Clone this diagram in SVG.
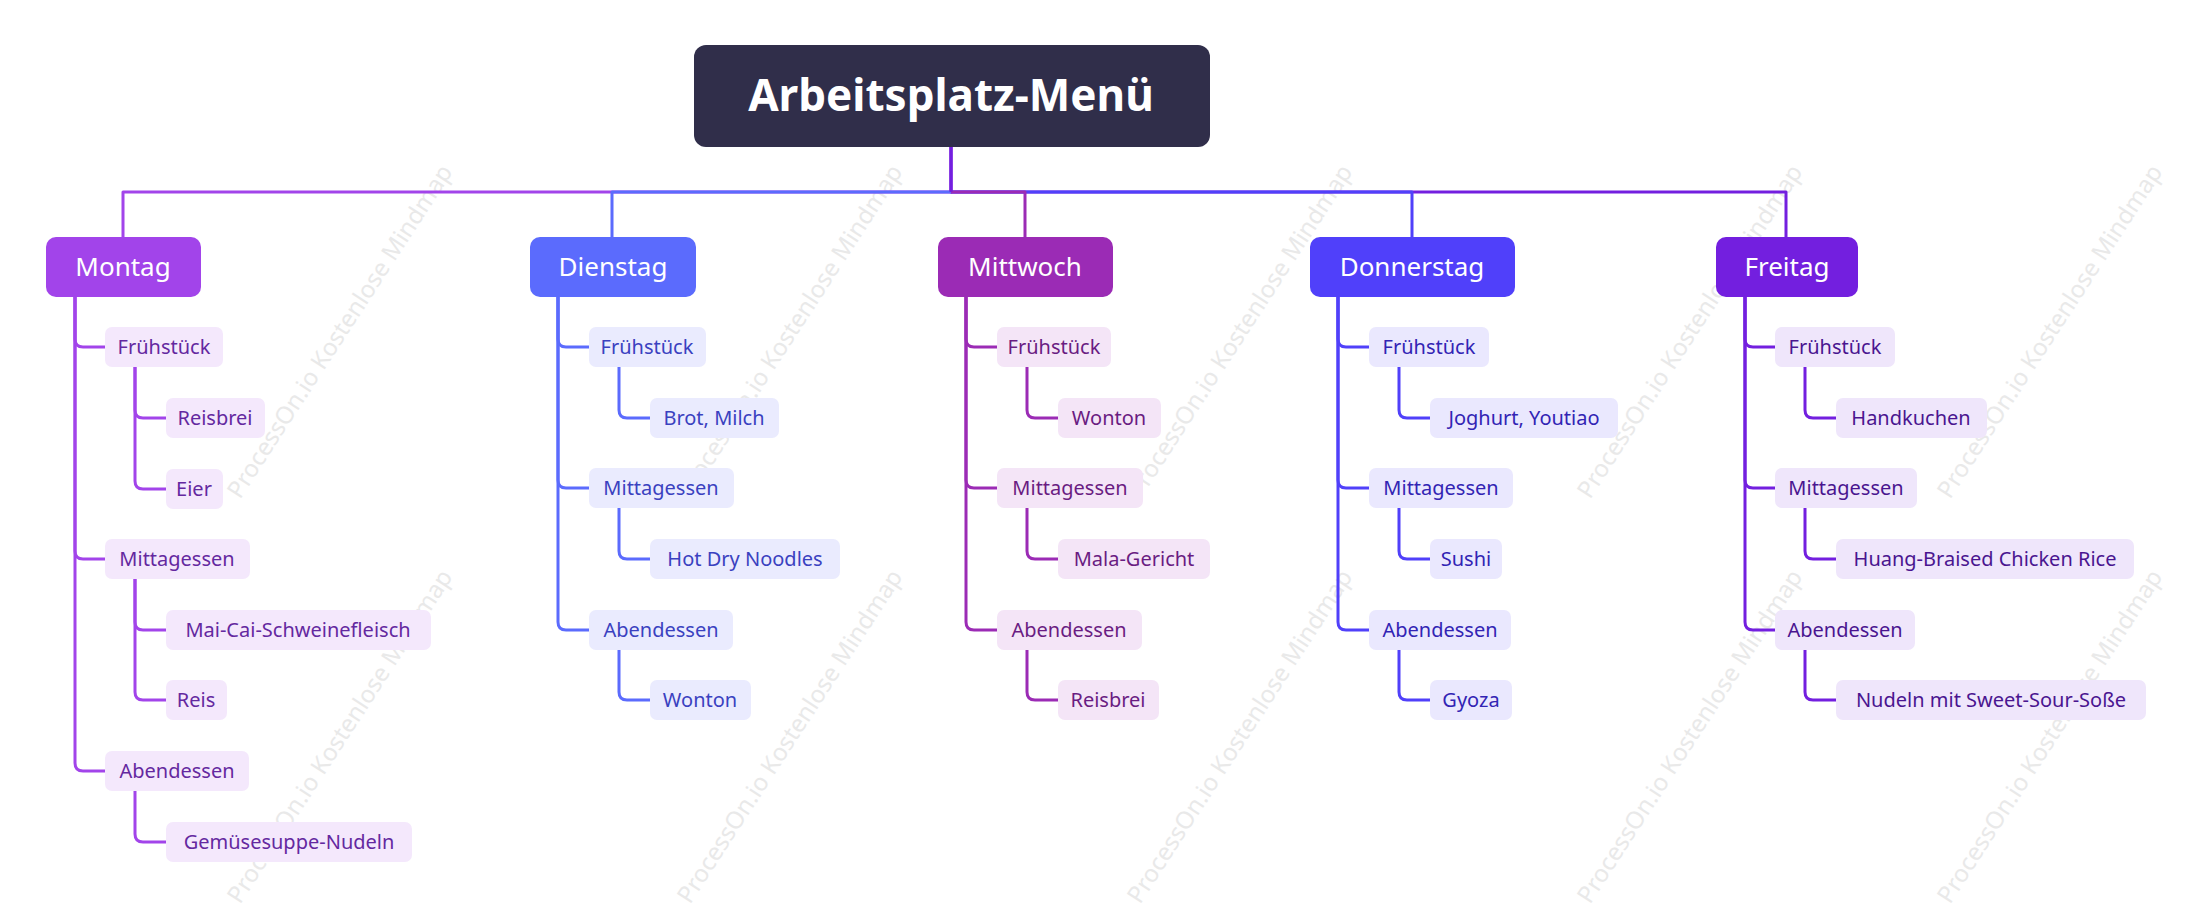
<svg xmlns="http://www.w3.org/2000/svg" width="2189" height="921" viewBox="0 0 2189 921">
<style>
text{font-family:"Noto Sans","Open Sans","Liberation Sans",sans-serif}
.wm{font-size:24px;fill:#e9e9e9}
.day{font-size:26px;fill:#fff;text-anchor:middle}
.t{font-size:20px;text-anchor:middle}
.c{fill:none;stroke-width:3;stroke-linejoin:round}
.mo .t{fill:#6428a0}.mo rect.s{fill:#f4e8fc}
.di .t{fill:#3a41c0}.di rect.s{fill:#eaebfe}
.mi .t{fill:#6a1c82}.mi rect.s{fill:#f4e5f7}
.do .t{fill:#3224b4}.do rect.s{fill:#eae8fe}
.fr .t{fill:#4a1590}.fr rect.s{fill:#efe6fb}
</style>
<rect width="2189" height="921" fill="#fff"/>
<g id="watermarks">
<text class="wm" transform="translate(240,500) rotate(-57)">ProcessOn.io Kostenlose Mindmap</text>
<text class="wm" transform="translate(240,905) rotate(-57)">ProcessOn.io Kostenlose Mindmap</text>
<text class="wm" transform="translate(690,500) rotate(-57)">ProcessOn.io Kostenlose Mindmap</text>
<text class="wm" transform="translate(690,905) rotate(-57)">ProcessOn.io Kostenlose Mindmap</text>
<text class="wm" transform="translate(1140,500) rotate(-57)">ProcessOn.io Kostenlose Mindmap</text>
<text class="wm" transform="translate(1140,905) rotate(-57)">ProcessOn.io Kostenlose Mindmap</text>
<text class="wm" transform="translate(1590,500) rotate(-57)">ProcessOn.io Kostenlose Mindmap</text>
<text class="wm" transform="translate(1590,905) rotate(-57)">ProcessOn.io Kostenlose Mindmap</text>
<text class="wm" transform="translate(1950,500) rotate(-57)">ProcessOn.io Kostenlose Mindmap</text>
<text class="wm" transform="translate(1950,905) rotate(-57)">ProcessOn.io Kostenlose Mindmap</text>
</g>
<g id="connectors">
<path class="c" stroke="#a244ea" d="M951 147V192H123V237"/>
<path class="c" stroke="#731fdf" d="M951 147V192H1786V237"/>
<path class="c" stroke="#5040fa" d="M951 192H1412V237"/>
<path class="c" stroke="#9b2bb5" d="M951 192H1025V237"/>
<path class="c" stroke="#5b6bfd" d="M951 192H612V237"/>
<path class="c" stroke="#731fdf" d="M951 147V192"/>
<g stroke="#a244ea" class="c">
<path class="c" d="M75 297V339Q75 347 83 347H105"/>
<path class="c" d="M75 297V551Q75 559 83 559H105"/>
<path class="c" d="M75 297V763Q75 771 83 771H105"/>
<path class="c" d="M135 367V410Q135 418 143 418H166"/>
<path class="c" d="M135 367V481Q135 489 143 489H166"/>
<path class="c" d="M135 579V622Q135 630 143 630H166"/>
<path class="c" d="M135 579V692Q135 700 143 700H166"/>
<path class="c" d="M135 791V834Q135 842 143 842H166"/>
</g>
<g stroke="#5b6bfd" class="c">
<path class="c" d="M558 297V339Q558 347 566 347H589"/>
<path class="c" d="M558 297V480Q558 488 566 488H589"/>
<path class="c" d="M558 297V622Q558 630 566 630H589"/>
<path class="c" d="M619 367V410Q619 418 627 418H650"/>
<path class="c" d="M619 508V551Q619 559 627 559H650"/>
<path class="c" d="M619 650V692Q619 700 627 700H650"/>
</g>
<g stroke="#9b2bb5" class="c">
<path class="c" d="M966 297V339Q966 347 974 347H997"/>
<path class="c" d="M966 297V480Q966 488 974 488H997"/>
<path class="c" d="M966 297V622Q966 630 974 630H997"/>
<path class="c" d="M1027 367V410Q1027 418 1035 418H1058"/>
<path class="c" d="M1027 508V551Q1027 559 1035 559H1058"/>
<path class="c" d="M1027 650V692Q1027 700 1035 700H1058"/>
</g>
<g stroke="#5040fa" class="c">
<path class="c" d="M1338 297V339Q1338 347 1346 347H1369"/>
<path class="c" d="M1338 297V480Q1338 488 1346 488H1369"/>
<path class="c" d="M1338 297V622Q1338 630 1346 630H1369"/>
<path class="c" d="M1399 367V410Q1399 418 1407 418H1430"/>
<path class="c" d="M1399 508V551Q1399 559 1407 559H1430"/>
<path class="c" d="M1399 650V692Q1399 700 1407 700H1430"/>
</g>
<g stroke="#731fdf" class="c">
<path class="c" d="M1745 297V339Q1745 347 1753 347H1775"/>
<path class="c" d="M1745 297V480Q1745 488 1753 488H1775"/>
<path class="c" d="M1745 297V622Q1745 630 1753 630H1775"/>
<path class="c" d="M1805 367V410Q1805 418 1813 418H1836"/>
<path class="c" d="M1805 508V551Q1805 559 1813 559H1836"/>
<path class="c" d="M1805 650V692Q1805 700 1813 700H1836"/>
</g>
</g>
<g id="root">
<rect x="694" y="45" width="516" height="102" rx="12" fill="#302e4a"/>
<text x="951" y="111" font-size="44" font-weight="bold" fill="#fff" text-anchor="middle">Arbeitsplatz-Menü</text>
</g>
<g id="montag" class="mo">
<rect x="46" y="237" width="155" height="60" rx="10" fill="#a244ea"/>
<text class="day" x="123" y="276">Montag</text>
<g id="mo-f"><rect class="s" x="105" y="327" width="118" height="40" rx="7"/><text class="t" x="164" y="354">Frühstück</text></g>
<g id="mo-f1"><rect class="s" x="166" y="398" width="99" height="40" rx="7"/><text class="t" x="215" y="425">Reisbrei</text></g>
<g id="mo-f2"><rect class="s" x="166" y="469" width="57" height="40" rx="7"/><text class="t" x="194" y="496">Eier</text></g>
<g id="mo-m"><rect class="s" x="105" y="539" width="145" height="40" rx="7"/><text class="t" x="177" y="566">Mittagessen</text></g>
<g id="mo-m1"><rect class="s" x="166" y="610" width="265" height="40" rx="7"/><text class="t" x="298" y="637">Mai-Cai-Schweinefleisch</text></g>
<g id="mo-m2"><rect class="s" x="166" y="680" width="61" height="40" rx="7"/><text class="t" x="196" y="707">Reis</text></g>
<g id="mo-a"><rect class="s" x="105" y="751" width="144" height="40" rx="7"/><text class="t" x="177" y="778">Abendessen</text></g>
<g id="mo-a1"><rect class="s" x="166" y="822" width="246" height="40" rx="7"/><text class="t" x="289" y="849">Gemüsesuppe-Nudeln</text></g>
</g>
<g id="dienstag" class="di">
<rect x="530" y="237" width="166" height="60" rx="10" fill="#5b6bfd"/>
<text class="day" x="613" y="276">Dienstag</text>
<g id="di-f"><rect class="s" x="589" y="327" width="117" height="40" rx="7"/><text class="t" x="647" y="354">Frühstück</text></g>
<g id="di-f1"><rect class="s" x="650" y="398" width="129" height="40" rx="7"/><text class="t" x="714" y="425">Brot, Milch</text></g>
<g id="di-m"><rect class="s" x="589" y="468" width="145" height="40" rx="7"/><text class="t" x="661" y="495">Mittagessen</text></g>
<g id="di-m1"><rect class="s" x="650" y="539" width="190" height="40" rx="7"/><text class="t" x="745" y="566">Hot Dry Noodles</text></g>
<g id="di-a"><rect class="s" x="589" y="610" width="144" height="40" rx="7"/><text class="t" x="661" y="637">Abendessen</text></g>
<g id="di-a1"><rect class="s" x="650" y="680" width="101" height="40" rx="7"/><text class="t" x="700" y="707">Wonton</text></g>
</g>
<g id="mittwoch" class="mi">
<rect x="938" y="237" width="175" height="60" rx="10" fill="#9b2bb5"/>
<text class="day" x="1025" y="276">Mittwoch</text>
<g id="mi-f"><rect class="s" x="997" y="327" width="114" height="40" rx="7"/><text class="t" x="1054" y="354">Frühstück</text></g>
<g id="mi-f1"><rect class="s" x="1058" y="398" width="103" height="40" rx="7"/><text class="t" x="1109" y="425">Wonton</text></g>
<g id="mi-m"><rect class="s" x="997" y="468" width="146" height="40" rx="7"/><text class="t" x="1070" y="495">Mittagessen</text></g>
<g id="mi-m1"><rect class="s" x="1058" y="539" width="152" height="40" rx="7"/><text class="t" x="1134" y="566">Mala-Gericht</text></g>
<g id="mi-a"><rect class="s" x="997" y="610" width="145" height="40" rx="7"/><text class="t" x="1069" y="637">Abendessen</text></g>
<g id="mi-a1"><rect class="s" x="1058" y="680" width="101" height="40" rx="7"/><text class="t" x="1108" y="707">Reisbrei</text></g>
</g>
<g id="donnerstag" class="do">
<rect x="1310" y="237" width="205" height="60" rx="10" fill="#5040fa"/>
<text class="day" x="1412" y="276">Donnerstag</text>
<g id="do-f"><rect class="s" x="1369" y="327" width="120" height="40" rx="7"/><text class="t" x="1429" y="354">Frühstück</text></g>
<g id="do-f1"><rect class="s" x="1430" y="398" width="188" height="40" rx="7"/><text class="t" x="1524" y="425">Joghurt, Youtiao</text></g>
<g id="do-m"><rect class="s" x="1369" y="468" width="144" height="40" rx="7"/><text class="t" x="1441" y="495">Mittagessen</text></g>
<g id="do-m1"><rect class="s" x="1430" y="539" width="72" height="40" rx="7"/><text class="t" x="1466" y="566">Sushi</text></g>
<g id="do-a"><rect class="s" x="1369" y="610" width="142" height="40" rx="7"/><text class="t" x="1440" y="637">Abendessen</text></g>
<g id="do-a1"><rect class="s" x="1430" y="680" width="82" height="40" rx="7"/><text class="t" x="1471" y="707">Gyoza</text></g>
</g>
<g id="freitag" class="fr">
<rect x="1716" y="237" width="142" height="60" rx="10" fill="#731fdf"/>
<text class="day" x="1787" y="276">Freitag</text>
<g id="fr-f"><rect class="s" x="1775" y="327" width="120" height="40" rx="7"/><text class="t" x="1835" y="354">Frühstück</text></g>
<g id="fr-f1"><rect class="s" x="1836" y="398" width="151" height="40" rx="7"/><text class="t" x="1911" y="425">Handkuchen</text></g>
<g id="fr-m"><rect class="s" x="1775" y="468" width="142" height="40" rx="7"/><text class="t" x="1846" y="495">Mittagessen</text></g>
<g id="fr-m1"><rect class="s" x="1836" y="539" width="298" height="40" rx="7"/><text class="t" x="1985" y="566">Huang-Braised Chicken Rice</text></g>
<g id="fr-a"><rect class="s" x="1775" y="610" width="140" height="40" rx="7"/><text class="t" x="1845" y="637">Abendessen</text></g>
<g id="fr-a1"><rect class="s" x="1836" y="680" width="310" height="40" rx="7"/><text class="t" x="1991" y="707">Nudeln mit Sweet-Sour-Soße</text></g>
</g>
</svg>
